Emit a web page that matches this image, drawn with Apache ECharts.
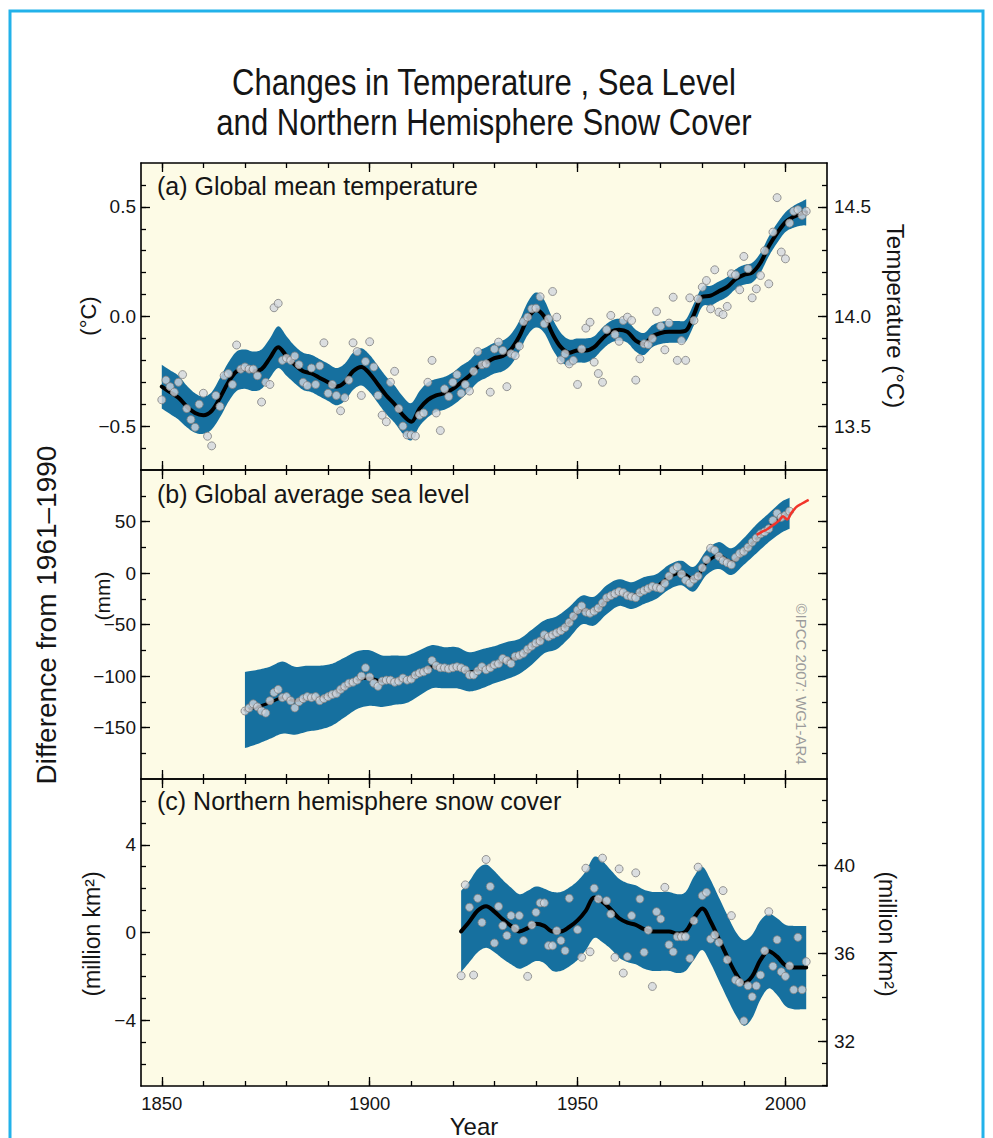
<!DOCTYPE html>
<html>
<head>
<meta charset="utf-8">
<title>Changes in Temperature, Sea Level and Northern Hemisphere Snow Cover</title>
<script src="https://cdn.jsdelivr.net/npm/echarts@6/dist/echarts.min.js"></script>
<style>
  html, body { margin: 0; padding: 0; background: #ffffff; }
  #chart { width: 993px; height: 1138px; }
</style>
</head>
<body>
<div id="chart"></div>
<script>
// ---------------------------------------------------------------------------
// Data (anomalies relative to the 1961–1990 mean)
// ---------------------------------------------------------------------------

// (a) Global mean temperature, annual values 1850–2005 (°C)
const tempStart = 1850;
const tempAnnual = [
  -0.38, -0.29, -0.32, -0.345, -0.30, -0.265, -0.42, -0.47, -0.505, -0.40,
  -0.35, -0.546, -0.59, -0.36, -0.41, -0.27, -0.26, -0.31, -0.13, -0.24,
  -0.23, -0.24, -0.24, -0.27, -0.39, -0.30, -0.31, 0.04, 0.06, -0.20,
  -0.19, -0.20, -0.18, -0.22, -0.30, -0.315, -0.235, -0.31, -0.225, -0.12,
  -0.35, -0.31, -0.36, -0.43, -0.37, -0.29, -0.12, -0.16, -0.36, -0.205,
  -0.115, -0.23, -0.36, -0.45, -0.48, -0.30, -0.25, -0.42, -0.50, -0.54,
  -0.54, -0.545, -0.45, -0.44, -0.30, -0.20, -0.44, -0.52, -0.33, -0.365,
  -0.30, -0.265, -0.35, -0.31, -0.34, -0.25, -0.16, -0.22, -0.216, -0.345,
  -0.148, -0.117, -0.155, -0.32, -0.17, -0.178, -0.135, -0.023, -0.003, 0.035,
  0.038, 0.09, -0.033, -0.01, 0.114, -0.003, -0.198, -0.17, -0.216, -0.20,
  -0.31, -0.148, -0.053, -0.026, -0.208, -0.26, -0.30, -0.06, 0.005, -0.082,
  -0.113, -0.018, -0.003, -0.018, -0.29, -0.193, -0.125, -0.128, -0.10, 0.023,
  -0.044, -0.152, -0.03, 0.088, -0.20, -0.11, -0.20, 0.085, -0.018, 0.08,
  0.134, 0.164, 0.035, 0.213, 0.02, 0.009, 0.046, 0.195, 0.19, 0.122,
  0.274, 0.218, 0.085, 0.126, 0.187, 0.30, 0.149, 0.385, 0.542, 0.294,
  0.263, 0.426, 0.48, 0.487, 0.461, 0.48
];
// decadal smoothed curve (every 2 years) and half-width of its uncertainty band
const tempSmoothYears = [
  1850, 1852, 1854, 1856, 1858, 1860, 1862, 1864, 1866, 1868,
  1870, 1872, 1874, 1876, 1878, 1880, 1882, 1884, 1886, 1888,
  1890, 1892, 1894, 1896, 1898, 1900, 1902, 1904, 1906, 1908,
  1910, 1912, 1914, 1916, 1918, 1920, 1922, 1924, 1926, 1928,
  1930, 1932, 1934, 1936, 1938, 1940, 1942, 1944, 1946, 1948,
  1950, 1952, 1954, 1956, 1958, 1960, 1962, 1964, 1966, 1968,
  1970, 1972, 1974, 1976, 1978, 1980, 1982, 1984, 1986, 1988,
  1990, 1992, 1994, 1996, 1998, 2000, 2002, 2004, 2005
];
const tempSmooth = [
  -0.32, -0.345, -0.37, -0.41, -0.44, -0.45, -0.43, -0.37, -0.30, -0.25,
  -0.24, -0.25, -0.24, -0.19, -0.14, -0.18, -0.22, -0.25, -0.26, -0.28,
  -0.30, -0.32, -0.30, -0.25, -0.23, -0.26, -0.31, -0.36, -0.40, -0.45,
  -0.48, -0.42, -0.38, -0.36, -0.35, -0.33, -0.30, -0.27, -0.23, -0.21,
  -0.19, -0.18, -0.15, -0.09, -0.01, 0.03, 0.00, -0.08, -0.14, -0.165,
  -0.155, -0.155, -0.14, -0.10, -0.07, -0.06, -0.07, -0.11, -0.125, -0.09,
  -0.075, -0.07, -0.07, -0.065, 0.01, 0.09, 0.095, 0.115, 0.135, 0.17,
  0.19, 0.20, 0.245, 0.32, 0.38, 0.43, 0.455, 0.47, 0.475
];
const tempBandHalf = [
  0.10, 0.10, 0.10, 0.095, 0.09, 0.085, 0.085, 0.09, 0.09, 0.09,
  0.09, 0.09, 0.09, 0.09, 0.095, 0.09, 0.085, 0.085, 0.085, 0.085,
  0.085, 0.085, 0.085, 0.085, 0.085, 0.085, 0.085, 0.085, 0.085, 0.085,
  0.085, 0.08, 0.08, 0.075, 0.075, 0.075, 0.075, 0.07, 0.07, 0.07,
  0.07, 0.07, 0.07, 0.07, 0.075, 0.08, 0.075, 0.07, 0.065, 0.06,
  0.055, 0.055, 0.05, 0.05, 0.05, 0.05, 0.05, 0.05, 0.05, 0.05,
  0.05, 0.05, 0.05, 0.05, 0.05, 0.045, 0.045, 0.045, 0.045, 0.045,
  0.045, 0.045, 0.045, 0.045, 0.045, 0.045, 0.05, 0.055, 0.06
];

// (b) Global average sea level, annual values 1870–2001 (mm)
const seaStart = 1870;
const seaAnnual = [
  -134, -131, -127, -130, -134, -136, -124, -116, -113, -121,
  -120, -124, -131, -125, -122, -120, -121, -120, -124, -122,
  -120, -118, -117, -113, -110, -107, -106, -104, -100, -92,
  -101, -107, -110, -105, -104, -104, -106, -105, -102, -104,
  -103, -99, -97, -96, -94, -85, -90, -92, -92, -93,
  -92, -91, -92, -94, -99, -99, -95, -91, -94, -92,
  -89, -88, -83, -85, -88, -81, -80, -78, -74, -71,
  -68, -66, -60, -62, -60, -58, -56, -53, -48, -42,
  -36, -32, -38, -39, -37, -34, -29, -24, -22, -20,
  -18, -19, -22, -23, -24, -19, -17, -15, -13, -14,
  -15, -10, -3, 3, 6, -1, -7, -10, -6, -3,
  5, 13, 24, 22, 16, 12, 10, 8, 15, 19,
  21, 25, 30, 34, 38, 40, 43, 51, 58, 54,
  56, 60
];
const seaSmoothYears = [
  1870, 1873, 1876, 1879, 1882, 1885, 1888, 1891, 1894, 1897,
  1900, 1903, 1906, 1909, 1912, 1915, 1918, 1921, 1924, 1927,
  1930, 1933, 1936, 1939, 1942, 1945, 1948, 1951, 1954, 1957,
  1960, 1963, 1966, 1969, 1972, 1975, 1978, 1981, 1984, 1987,
  1990, 1993, 1996, 1999, 2001
];
const seaSmooth = [
  -133, -130, -126, -121, -124, -122, -121, -118, -111, -104,
  -102, -105, -104, -103, -97, -91, -92, -92, -96, -93,
  -89, -85, -81, -72, -62, -58, -48, -36, -37, -26,
  -19, -22, -17, -13, -4, 0, -6, 10, 17, 11,
  21, 33, 44, 54, 58
];
const seaBandHalf = [
  37, 36, 35, 35, 33, 32, 31, 30, 29, 28,
  27, 25, 24, 23, 22, 21, 20, 20, 19, 19,
  18, 18, 17, 17, 16, 16, 15, 14, 14, 14,
  13, 13, 13, 12, 12, 12, 12, 12, 13, 13,
  13, 14, 14, 15, 15
];
// satellite altimetry (mm)
const seaSatYears = [1993.1, 1994.3, 1995.4, 1996.5, 1997.6, 1998.5, 1999.4, 2000.4, 2001.4, 2002.6, 2003.8, 2005.6];
const seaSat      = [37, 40, 42, 45, 48, 51, 55, 52, 58, 64, 67, 71];

// (c) Northern hemisphere snow cover (March–April), annual values 1922–2005 (million km²)
const snowStart = 1922;
const snowAnnual = [
  -1.97, 2.17, 1.15, -1.94, 1.56, 0.46, 3.33, 2.1, -0.48, 1.19,
  0.31, -0.14, 0.77, 0.19, 0.77, -0.37, -2.0, 0.34, 0.92, 1.35,
  1.35, -0.6, -0.6, 0.08, -0.37, -0.83, 1.56, null, 0.13, -1.13,
  2.93, -0.88, 2.02, 1.53, 3.39, 1.45, 0.84, -1.13, 2.9, -1.85,
  -1.1, 0.77, 2.72, 1.53, -0.9, 0.11, -2.46, 0.95, 0.62, 2.06,
  -0.56, -0.88, -0.19, -0.19, -0.19, -1.18, 0.54, 2.98, 1.68, 1.83,
  -0.3, -0.11, -0.45, 1.91, -1.24, 0.77, -2.17, -2.28, -4.03, -2.43,
  -2.93, -2.43, -1.94, -0.83, 0.95, -1.54, -0.33, -1.79, -2.0, -1.52,
  -2.61, -0.22, -2.61, -1.33
];
const snowSmoothYears = [
  1922, 1924, 1926, 1928, 1930, 1932, 1934, 1936, 1938, 1940,
  1942, 1944, 1946, 1948, 1950, 1952, 1954, 1956, 1958, 1960,
  1962, 1964, 1966, 1968, 1970, 1972, 1974, 1976, 1978, 1980,
  1982, 1984, 1986, 1988, 1990, 1992, 1994, 1996, 1998, 2000,
  2002, 2004, 2005
];
const snowSmooth = [
  0.05, 0.5, 1.0, 1.2, 0.95, 0.6, 0.3, 0.05, 0.2, 0.4,
  0.3, 0.05, 0.05, 0.25, 0.55, 1.0, 1.6, 1.4, 1.05, 0.65,
  0.45, 0.35, 0.15, 0.05, 0.05, 0.05, -0.05, 0.05, 0.65, 1.1,
  0.5, -0.3, -1.1, -1.85, -2.3, -2.0, -1.25, -0.85, -1.1, -1.5,
  -1.6, -1.6, -1.6
];
const snowBandHalf = [
  1.85, 1.85, 1.9, 1.9, 1.85, 1.8, 1.75, 1.7, 1.7, 1.7,
  1.7, 1.8, 1.8, 1.8, 1.8, 1.8, 1.85, 1.85, 1.8, 1.8,
  1.8, 1.8, 1.8, 1.8, 1.8, 1.8, 1.8, 1.8, 1.9, 1.9,
  1.9, 1.9, 1.9, 1.9, 1.95, 1.9, 1.8, 1.7, 1.75, 1.85,
  1.9, 1.9, 1.9
];
// absolute snow-covered area matching the 1961–1990 mean (million km²)
const snowMeanArea = 36.95;

// Axis ticks and labels
const yearTicks = [1850, 1900, 1950, 2000];
const tempTicks = [-0.5, 0, 0.5];
const tempAbsTicks = [13.5, 14.0, 14.5];
const seaTicks = [-150, -100, -50, 0, 50];
const snowTicks = [-4, 0, 4];
const snowAbsTicks = [32, 36, 40];

// ---------------------------------------------------------------------------
// Drawing
// ---------------------------------------------------------------------------
const FONT = "'Liberation Sans', Arial, Helvetica, sans-serif";
const INK = '#151515';
const BAND = '#16709f';
const PLOT_BG = '#fdfbe6';
const YEAR_MIN = 1845, YEAR_MAX = 2010;

function steps(a, b, s) {
  const out = [];
  for (let v = a; v <= b + 1e-9; v += s) out.push(Math.round(v * 1000) / 1000);
  return out;
}
const fmtSigned = d => v => (v < 0 ? '\u2212' : '') + Math.abs(v).toFixed(d);

function axisX(gi, pos, ticks, len, withLine, withLabels) {
  return {
    type: 'value', gridIndex: gi, position: pos, min: YEAR_MIN, max: YEAR_MAX,
    splitLine: { show: false },
    axisLine: { show: withLine, onZero: false, lineStyle: { color: '#000', width: 1.6 } },
    axisTick: { show: true, inside: true, length: len, customValues: ticks,
                lineStyle: { color: '#000', width: 1.3 } },
    axisLabel: withLabels
      ? { show: true, customValues: ticks, margin: 8, fontSize: 18.5, fontFamily: FONT,
          color: INK, formatter: v => String(v) }
      : { show: false }
  };
}
function axisY(gi, pos, min, max, ticks, len, withLine, fmt) {
  return {
    type: 'value', gridIndex: gi, position: pos, min: min, max: max,
    splitLine: { show: false },
    axisLine: { show: withLine, onZero: false, lineStyle: { color: '#000', width: 1.6 } },
    axisTick: { show: true, inside: true, length: len, customValues: ticks,
                lineStyle: { color: '#000', width: 1.3 } },
    axisLabel: fmt
      ? { show: true, customValues: ticks, margin: pos === 'left' ? 5 : 7, fontSize: 19,
          fontFamily: FONT, color: INK, formatter: fmt }
      : { show: false }
  };
}

const xAxes = [];
[0, 1, 2].forEach(gi => {
  xAxes.push(axisX(gi, 'bottom', yearTicks, 9, true, gi === 2));
  xAxes.push(axisX(gi, 'bottom', steps(1850, 2000, 10), 5, false, false));
  xAxes.push(axisX(gi, 'top', yearTicks, 9, true, false));
  xAxes.push(axisX(gi, 'top', steps(1850, 2000, 10), 5, false, false));
});

const yAxes = [
  // (a) temperature
  axisY(0, 'left', -0.7, 0.7, tempTicks, 9, true, fmtSigned(1)),
  axisY(0, 'left', -0.7, 0.7, steps(-0.6, 0.6, 0.1), 5, false, null),
  axisY(0, 'right', 13.3, 14.7, tempAbsTicks, 9, true, v => v.toFixed(1)),
  axisY(0, 'right', 13.3, 14.7, steps(13.4, 14.6, 0.1), 5, false, null),
  // (b) sea level
  axisY(1, 'left', -200, 100, seaTicks, 9, true, fmtSigned(0)),
  axisY(1, 'left', -200, 100, steps(-175, 75, 25), 5, false, null),
  axisY(1, 'right', -200, 100, seaTicks, 9, true, null),
  axisY(1, 'right', -200, 100, steps(-175, 75, 25), 5, false, null),
  // (c) snow cover
  axisY(2, 'left', -7, 7, snowTicks, 9, true, fmtSigned(0)),
  axisY(2, 'left', -7, 7, steps(-6, 6, 1), 5, false, null),
  axisY(2, 'right', -7 + snowMeanArea, 7 + snowMeanArea, snowAbsTicks, 9, true, v => String(v)),
  axisY(2, 'right', -7 + snowMeanArea, 7 + snowMeanArea, steps(30, 43, 1), 5, false, null)
];

function annualPoints(start, vals) {
  return vals.map((v, i) => (v === null ? null : [start + i, v])).filter(p => p !== null);
}
function zip(xs, ys) { return xs.map((x, i) => [x, ys[i]]); }

// Catmull-Rom pass through already projected pixel points, for soft band edges
function spline(pts, segs) {
  const out = [];
  const n = pts.length;
  for (let i = 0; i < n - 1; i++) {
    const p0 = pts[Math.max(i - 1, 0)], p1 = pts[i], p2 = pts[i + 1], p3 = pts[Math.min(i + 2, n - 1)];
    for (let k = 0; k < segs; k++) {
      const t = k / segs, t2 = t * t, t3 = t2 * t;
      const c = j => 0.5 * (2 * p1[j] + (-p0[j] + p2[j]) * t +
        (2 * p0[j] - 5 * p1[j] + 4 * p2[j] - p3[j]) * t2 +
        (-p0[j] + 3 * p1[j] - 3 * p2[j] + p3[j]) * t3);
      out.push([c(0), c(1)]);
    }
  }
  out.push(pts[n - 1]);
  return out;
}

// uncertainty band: one filled polygon between centre+half and centre-half
function bandSeries(gi, years, center, half) {
  return {
    type: 'custom', xAxisIndex: gi * 4, yAxisIndex: gi * 4, silent: true, z: 1,
    data: zip(years, center),
    encode: { x: 0, y: 1 },
    renderItem: function (params, api) {
      if (params.dataIndex !== 0) return null;
      const upper = years.map((y, i) => api.coord([y, center[i] + half[i]]));
      const lower = years.map((y, i) => api.coord([y, center[i] - half[i]]));
      const pts = spline(upper, 8).concat(spline(lower, 8).reverse());
      return { type: 'polygon', shape: { points: pts }, style: { fill: BAND, stroke: null } };
    }
  };
}

function panelSeries(gi, years, center, half, points, lineWidth) {
  const ax = { xAxisIndex: gi * 4, yAxisIndex: gi * 4 };
  return [
    bandSeries(gi, years, center, half),
    Object.assign({
      type: 'line', smooth: 0.35, symbol: 'none', silent: true, z: 2,
      data: zip(years, center),
      lineStyle: { color: '#000', width: lineWidth, cap: 'round', join: 'round' }
    }, ax),
    Object.assign({
      type: 'scatter', symbol: 'circle', symbolSize: 8, silent: true, z: 3,
      data: points,
      itemStyle: { color: '#d2d7df', borderColor: '#808080', borderWidth: 1 }
    }, ax)
  ];
}

const series = [].concat(
  panelSeries(0, tempSmoothYears, tempSmooth, tempBandHalf, annualPoints(tempStart, tempAnnual), 4),
  panelSeries(1, seaSmoothYears, seaSmooth, seaBandHalf, annualPoints(seaStart, seaAnnual), 3),
  panelSeries(2, snowSmoothYears, snowSmooth, snowBandHalf, annualPoints(snowStart, snowAnnual), 4),
  [{
    type: 'line', xAxisIndex: 4, yAxisIndex: 4, smooth: 0.3, symbol: 'none', silent: true, z: 4,
    data: zip(seaSatYears, seaSat),
    lineStyle: { color: '#f2352b', width: 2.5 }
  }]
);

function txt(text, x, y, size, extra) {
  const base = { text: text, fontSize: size, fontFamily: FONT, fill: INK,
                 align: 'center', verticalAlign: 'middle' };
  const e = Object.assign({ type: 'text', x: x, y: y, silent: true }, extra || {});
  e.style = Object.assign(base, (extra && extra.style) || {});
  return e;
}

const graphics = [
  { type: 'rect', silent: true, shape: { x: 10, y: 11, width: 973, height: 1200 },
    style: { fill: 'none', stroke: '#22b2ea', lineWidth: 3 } },
  txt('Changes in Temperature , Sea Level', 484, 82, 37, { scaleX: 0.84 }),
  txt('and Northern Hemisphere Snow Cover', 484, 122, 37, { scaleX: 0.84 }),
  txt('(a) Global mean temperature', 157, 186, 25, { style: { align: 'left' } }),
  txt('(b) Global average sea level', 157, 494, 25, { style: { align: 'left' } }),
  txt('(c) Northern hemisphere snow cover', 157, 801, 25, { style: { align: 'left' } }),
  txt('Difference from 1961\u20131990', 46, 615, 28, { rotation: Math.PI / 2 }),
  txt('(\u00b0C)', 88, 316, 22, { rotation: Math.PI / 2 }),
  txt('(mm)', 102, 596, 21, { rotation: Math.PI / 2 }),
  txt('(million km\u00b2)', 92, 934, 23, { rotation: Math.PI / 2 }),
  txt('Temperature (\u00b0C)', 895, 316, 24, { rotation: -Math.PI / 2 }),
  txt('(million km\u00b2)', 887, 934, 23, { rotation: -Math.PI / 2 }),
  txt('\u00a9IPCC 2007: WG1-AR4', 801, 684, 15, { rotation: -Math.PI / 2, style: { fill: '#9c9c9c' } }),
  txt('Year', 474, 1126, 24)
];

const chart = echarts.init(document.getElementById('chart'), null, { renderer: 'svg' });
chart.setOption({
  animation: false,
  backgroundColor: '#ffffff',
  grid: [
    { left: 141, top: 163, width: 686, height: 307, show: true, backgroundColor: PLOT_BG, borderWidth: 0 },
    { left: 141, top: 470, width: 686, height: 309, show: true, backgroundColor: PLOT_BG, borderWidth: 0 },
    { left: 141, top: 779, width: 686, height: 307, show: true, backgroundColor: PLOT_BG, borderWidth: 0 }
  ],
  xAxis: xAxes,
  yAxis: yAxes,
  series: series,
  graphic: graphics
});
</script>
</body>
</html>
